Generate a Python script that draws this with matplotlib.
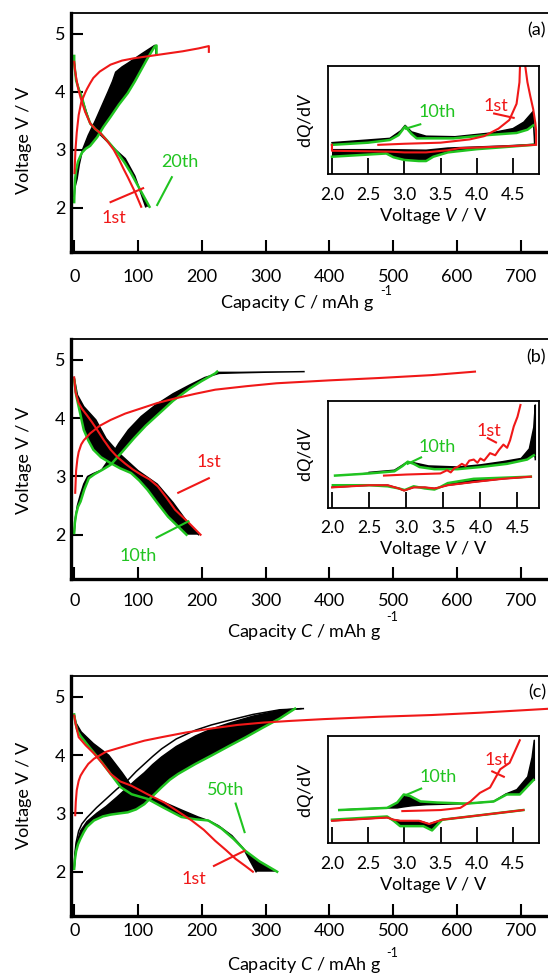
import numpy as np
import matplotlib
matplotlib.use('Agg')
import matplotlib.pyplot as plt

plt.rcParams['font.family'] = ['Lato', 'DejaVu Sans']
plt.rcParams['mathtext.fontset'] = 'custom'
plt.rcParams['mathtext.rm'] = 'Lato'
plt.rcParams['mathtext.it'] = 'Lato:italic'

RED = '#f01818'
GREEN = '#20c420'

# ---------------- panel (a), voltage profiles ----------------
a_red_ch_C = [0.5, 1, 2, 4, 7, 11, 17, 20, 25, 30, 40, 57, 75, 94, 132, 170, 195, 211, 211]
a_red_ch_V = [2.6, 2.75, 3.0, 3.3, 3.6, 3.82, 3.98, 4.05, 4.15, 4.24, 4.35, 4.47, 4.54, 4.58,
              4.64, 4.7, 4.75, 4.79, 4.69]
a_red_dis_C = [0, 1, 3, 6, 10, 17, 25, 33, 41, 52, 62, 70, 77, 84, 95, 105]
a_red_dis_V = [4.52, 4.4, 4.25, 4.07, 3.9, 3.66, 3.46, 3.36, 3.29, 3.15, 3.0, 2.84, 2.68, 2.53,
               2.28, 2.02]
a_blk_ch_C = [0, 1, 4.5, 8, 13, 22, 33, 43, 53, 60, 65, 75, 85, 105, 126, 128, 128]
a_blk_ch_V = [2.2, 2.35, 2.5, 2.75, 3.0, 3.25, 3.5, 3.75, 4.0, 4.18, 4.34, 4.43, 4.5, 4.65, 4.8,
              4.8, 4.66]
a_blk_dis_C = [0, 3, 12, 25, 42, 65, 80, 95, 112]
a_blk_dis_V = [4.55, 4.2, 3.9, 3.45, 3.25, 3.0, 2.85, 2.55, 2.02]
a_grn_ch_C = [0, 0.5, 1.5, 3, 6, 12, 18, 25, 36, 46, 57, 70, 84, 95, 105, 115, 126, 129, 129]
a_grn_ch_V = [2.1, 2.3, 2.5, 2.65, 2.8, 2.95, 3.02, 3.07, 3.22, 3.4, 3.57, 3.78, 3.98, 4.18, 4.38,
              4.58, 4.78, 4.8, 4.65]
a_grn_dis_C = [0, 0, 3, 7, 12, 18, 25, 33, 41, 55, 68, 79, 89, 104, 118]
a_grn_dis_V = [4.62, 4.5, 4.2, 4.05, 3.91, 3.66, 3.46, 3.36, 3.29, 3.12, 2.95, 2.78, 2.6, 2.3, 2.02]

# panel (a), dQ/dV inset
a_in_grn_up_V = [2.0, 2.5, 2.8, 2.92, 3.01, 3.1, 3.17, 3.68, 4.14, 4.55, 4.7, 4.78]
a_in_grn_up_y = [0.27, 0.29, 0.315, 0.36, 0.44, 0.37, 0.33, 0.33, 0.36, 0.38, 0.41, 0.45]
a_in_blk_up_V = [2.0, 2.8, 2.95, 3.01, 3.1, 3.3, 3.7, 4.2, 4.5, 4.65, 4.78, 4.8]
a_in_blk_up_y = [0.29, 0.33, 0.40, 0.45, 0.39, 0.35, 0.345, 0.38, 0.42, 0.48, 0.58, 0.27]
a_in_red_up_V = [2.64, 3.0, 3.5, 3.9, 4.1, 4.3, 4.45, 4.55, 4.59, 4.6]
a_in_red_up_y = [0.27, 0.28, 0.29, 0.32, 0.35, 0.42, 0.5, 0.65, 0.85, 1.05]
a_in_red_tail_V = [4.66, 4.7, 4.74, 4.78, 4.81, 4.82, 4.82]
a_in_red_tail_y = [1.05, 0.85, 0.72, 0.6, 0.47, 0.4, 0.27]
a_in_grn_lo_V = [2.0, 2.5, 2.75, 2.85, 3.0, 3.2, 3.3, 3.4, 3.6, 4.0, 4.4, 4.78]
a_in_grn_lo_y = [0.16, 0.18, 0.19, 0.155, 0.13, 0.12, 0.12, 0.16, 0.20, 0.23, 0.25, 0.27]
a_in_blk_lo_V = [2.0, 2.8, 3.3, 3.6, 4.0, 4.4, 4.8]
a_in_blk_lo_y = [0.225, 0.225, 0.22, 0.24, 0.25, 0.26, 0.275]
a_in_red_lo_V = [2.0, 2.0, 2.5, 2.8, 3.0, 3.3, 3.6, 3.77, 4.0, 4.55, 4.8]
a_in_red_lo_y = [0.27, 0.215, 0.21, 0.207, 0.2, 0.2, 0.22, 0.24, 0.245, 0.26, 0.27]

# ---------------- panel (b) ----------------
b_red_ch_C = [1.6, 3, 5, 7, 11, 15, 25, 40, 57, 80, 105, 130, 158, 190, 221, 270, 317, 400,
              477, 560, 628]
b_red_ch_V = [2.72, 3.1, 3.3, 3.42, 3.55, 3.62, 3.74, 3.87, 3.97, 4.08, 4.17, 4.26, 4.34, 4.42,
              4.49, 4.55, 4.6, 4.65, 4.69, 4.74, 4.8]
b_red_dis_C = [0, 2, 7, 13, 20, 28, 36, 46, 57, 68, 80, 92, 105, 118, 131, 145, 158, 180, 198]
b_red_dis_V = [4.7, 4.45, 4.26, 4.15, 4.05, 3.93, 3.8, 3.63, 3.46, 3.33, 3.22, 3.12, 3.03, 2.95,
               2.83, 2.63, 2.43, 2.2, 2.0]
b_blk_ch_C = [0, 2, 5, 10, 15, 21, 30, 43, 55, 70, 85, 105, 128, 155, 181, 205, 227, 260, 300, 360]
b_blk_ch_V = [2.03, 2.3, 2.5, 2.7, 2.87, 3.0, 3.05, 3.11, 3.3, 3.57, 3.8, 4.03, 4.23, 4.42, 4.57,
              4.7, 4.77, 4.78, 4.79, 4.8]
b_blk_dis_C = [0, 5, 15, 34, 50, 70, 100, 130, 155, 175, 195]
b_blk_dis_V = [4.7, 4.4, 4.2, 3.97, 3.65, 3.4, 3.1, 2.87, 2.55, 2.25, 2.0]
b_grn_ch_C = [0, 1, 3, 6, 10, 16, 23, 32, 45, 57, 75, 94, 112, 131, 155, 181, 200, 221, 224]
b_grn_ch_V = [2.03, 2.2, 2.35, 2.48, 2.57, 2.78, 2.97, 3.04, 3.12, 3.2, 3.42, 3.66, 3.87, 4.06,
              4.3, 4.51, 4.64, 4.77, 4.8]
b_grn_dis_C = [0, 3, 7, 15, 22, 30, 42, 57, 72, 89, 102, 115, 130, 147, 162, 176]
b_grn_dis_V = [4.66, 4.4, 4.2, 3.8, 3.62, 3.46, 3.33, 3.23, 3.14, 3.06, 2.93, 2.77, 2.55, 2.31,
               2.15, 2.0]

b_in_grn_up_V = [2.04, 2.5, 2.84, 2.95, 3.02, 3.1, 3.18, 3.38, 3.69, 4.0, 4.36, 4.63, 4.72]
b_in_grn_up_y = [0.30, 0.32, 0.34, 0.39, 0.43, 0.41, 0.38, 0.36, 0.36, 0.38, 0.41, 0.45, 0.49]
b_in_blk_up_V = [2.5, 2.84, 3.0, 3.1, 3.3, 3.7, 4.0, 4.3, 4.55, 4.66, 4.72, 4.74, 4.74]
b_in_blk_up_y = [0.33, 0.35, 0.42, 0.42, 0.39, 0.38, 0.40, 0.43, 0.46, 0.55, 0.75, 0.96, 0.45]
b_in_red_up_V = [2.70, 3.0, 3.46, 3.55, 3.6, 3.65, 3.69, 3.75, 3.8, 3.85, 3.91, 3.96,
                 4.0, 4.05, 4.13, 4.2, 4.25, 4.31, 4.36, 4.4, 4.45, 4.5, 4.54]
b_in_red_up_y = [0.30, 0.31, 0.32, 0.35, 0.33, 0.37, 0.38, 0.41, 0.39, 0.44, 0.45, 0.42,
                 0.46, 0.44, 0.51, 0.49, 0.54, 0.59, 0.56, 0.63, 0.76, 0.85, 0.96]
b_in_grn_lo_V = [2.01, 2.5, 2.75, 2.9, 2.98, 3.1, 3.25, 3.38, 3.45, 3.56, 3.91, 4.3, 4.68]
b_in_grn_lo_y = [0.21, 0.21, 0.20, 0.18, 0.165, 0.2, 0.18, 0.17, 0.19, 0.23, 0.27, 0.28, 0.29]
b_in_red_lo_V = [2.0, 2.5, 2.75, 2.9, 2.97, 3.1, 3.25, 3.38, 3.45, 3.56, 3.91, 4.3, 4.68]
b_in_red_lo_y = [0.19, 0.21, 0.21, 0.18, 0.16, 0.19, 0.19, 0.18, 0.19, 0.21, 0.24, 0.27, 0.29]

# ---------------- panel (c) ----------------
c_red_ch_C = [1.6, 2.5, 4, 7, 10, 15, 22, 31, 50, 84, 110, 137, 175, 216, 256, 296, 340, 391,
              477, 560, 636, 700, 747]
c_red_ch_V = [2.97, 3.2, 3.4, 3.56, 3.65, 3.74, 3.85, 3.94, 4.06, 4.17, 4.25, 4.31, 4.39, 4.46,
              4.52, 4.56, 4.59, 4.62, 4.66, 4.69, 4.73, 4.77, 4.80]
c_red_dis_C = [0, 2, 7, 18, 31, 45, 57, 72, 89, 115, 141, 162, 184, 203, 221, 238, 253, 268, 280]
c_red_dis_V = [4.68, 4.55, 4.31, 4.17, 4.03, 3.85, 3.68, 3.55, 3.48, 3.33, 3.19, 3.04, 2.88, 2.72,
               2.53, 2.37, 2.22, 2.1, 2.0]
c_blk1_ch_C = [0, 1, 3, 7, 12, 20, 35, 50, 67, 84, 97, 110, 123, 137, 160, 190, 215, 243, 280,
               322, 359]
c_blk1_ch_V = [2.05, 2.3, 2.5, 2.7, 2.82, 2.93, 3.1, 3.25, 3.42, 3.57, 3.72, 3.85, 3.98, 4.11,
               4.28, 4.43, 4.52, 4.6, 4.7, 4.78, 4.8]
c_blk_ch_C = [0, 3, 10, 20, 35, 50, 67, 84, 97, 110, 123, 137, 160, 190, 215, 243, 280, 322, 355]
c_blk_ch_V = [2.05, 2.45, 2.7, 2.86, 3.0, 3.12, 3.28, 3.45, 3.58, 3.7, 3.84, 3.97, 4.15, 4.33,
              4.45, 4.55, 4.67, 4.77, 4.8]
c_blk_dis_C = [0, 3, 11, 30, 54, 75, 91, 115, 141, 168, 194, 212, 226, 247, 265, 285]
c_blk_dis_V = [4.7, 4.55, 4.4, 4.2, 4.0, 3.7, 3.45, 3.3, 3.19, 3.06, 2.94, 2.87, 2.79, 2.62, 2.4,
               2.0]
c_grn_ch_C = [0, 1, 3, 6, 9.5, 15, 20, 31, 45, 57, 70, 84, 97, 110, 123, 137, 150, 163, 190, 216,
              243, 269, 295, 322, 346]
c_grn_ch_V = [2.05, 2.2, 2.35, 2.47, 2.56, 2.68, 2.77, 2.88, 2.95, 2.98, 3.0, 3.02, 3.07, 3.16,
              3.3, 3.45, 3.58, 3.68, 3.85, 4.0, 4.16, 4.31, 4.47, 4.63, 4.8]
c_grn_dis_C = [0, 2, 5, 10, 25, 41, 57, 73, 90, 115, 140, 168, 190, 210, 231, 250, 268, 290, 318]
c_grn_dis_V = [4.7, 4.55, 4.42, 4.33, 4.12, 3.91, 3.68, 3.45, 3.33, 3.25, 3.1, 2.94, 2.9, 2.88,
               2.74, 2.56, 2.36, 2.18, 2.0]

c_in_grn_up_V = [2.1, 2.76, 2.9, 2.99, 3.08, 3.22, 3.45, 3.86, 4.23, 4.41, 4.59, 4.78]
c_in_grn_up_y = [0.31, 0.33, 0.38, 0.455, 0.44, 0.39, 0.38, 0.37, 0.39, 0.455, 0.455, 0.59]
c_in_blk_up_V = [2.1, 2.76, 2.9, 2.99, 3.1, 3.3, 3.86, 4.23, 4.4, 4.55, 4.7, 4.76, 4.79, 4.79]
c_in_blk_up_y = [0.31, 0.33, 0.33, 0.34, 0.35, 0.36, 0.37, 0.39, 0.46, 0.5, 0.62, 0.8, 0.96, 0.59]
c_in_red_up_V = [2.97, 3.5, 3.77, 3.91, 4.04, 4.18, 4.32, 4.45, 4.52, 4.59]
c_in_red_up_y = [0.30, 0.31, 0.33, 0.39, 0.47, 0.52, 0.69, 0.75, 0.855, 0.96]
c_in_grn_lo_V = [2.0, 2.76, 2.85, 2.94, 3.26, 3.38, 3.52, 3.9, 4.64]
c_in_grn_lo_y = [0.22, 0.25, 0.21, 0.16, 0.16, 0.12, 0.22, 0.25, 0.31]
c_in_red_lo_V = [2.0, 2.76, 2.85, 2.94, 3.2, 3.34, 3.52, 3.9, 4.64]
c_in_red_lo_y = [0.21, 0.24, 0.22, 0.21, 0.21, 0.18, 0.22, 0.25, 0.31]

cap_ticks = [0, 100, 200, 300, 400, 500, 600, 700]
volt_ticks = [2, 3, 4, 5]
dq_ticks = [2.0, 2.5, 3.0, 3.5, 4.0, 4.5]

W, H = 548, 974
fig = plt.figure(figsize=(W / 100, H / 100), dpi=100)


def band(ax, c1, v1, c2, v2):
    c1, v1, c2, v2 = map(np.asarray, (c1, v1, c2, v2))
    ax.fill(np.r_[c1, c2[::-1]], np.r_[v1, v2[::-1]], color='k', lw=0)
    ax.plot(c1, v1, color='k', lw=1.1)


def main_panel(top, bottom, xpad):
    ax = fig.add_axes([71 / W, 1 - bottom / H, (W - 71) / W + 0.01, (bottom - top) / H])
    ax.set_xlim(-5, 751)
    ax.set_ylim(1.24, 5.36)
    ax.spines['right'].set_visible(False)
    ax.spines['left'].set_linewidth(2.4)
    ax.spines['bottom'].set_linewidth(2.4)
    ax.spines['top'].set_linewidth(1.3)
    ax.set_xticks(cap_ticks)
    ax.set_yticks(volt_ticks)
    ax.tick_params(direction='in', length=8.6, width=1.5, labelsize=13)
    ax.tick_params(axis='x', pad=xpad)
    ax.tick_params(axis='y', pad=4)
    return ax


def inset(top, bottom, xmax):
    ax = fig.add_axes([328 / W, 1 - bottom / H, 211 / W, (bottom - top) / H])
    ax.set_xlim(1.945, xmax)
    ax.set_ylim(0, 1)
    for s in ax.spines.values():
        s.set_linewidth(1.3)
    ax.set_xticks(dq_ticks)
    ax.set_xticklabels(['%.1f' % t for t in dq_ticks])
    ax.set_yticks([])
    ax.tick_params(axis='x', direction='in', length=11.5, width=1.3, labelsize=12.5, pad=9)
    ax.text(0.5, -0.39, 'Voltage $V$ / V', transform=ax.transAxes, ha='center', va='center',
            fontsize=13)
    ax.text(-0.105, 0.5, 'd$Q$/d$V$', transform=ax.transAxes, ha='center', va='center',
            rotation=90, fontsize=13)
    return ax


def labels(ycenter, xcenter, xlab_y, sup_xy, letter, letter_y):
    fig.text(24 / W, 1 - ycenter / H, 'Voltage V / V', rotation=90, ha='center', va='center',
             fontsize=13)
    fig.text(xcenter / W, 1 - xlab_y / H, 'Capacity $C$ / mAh g', ha='center', va='center',
             fontsize=13)
    fig.text(sup_xy[0] / W, 1 - sup_xy[1] / H, '-1', ha='center', va='center', fontsize=9)
    fig.text(546 / W, 1 - letter_y / H, letter, ha='right', va='center', fontsize=13)


# ----- (a) -----
ax = main_panel(13, 252, 12)
band(ax, a_blk_ch_C, a_blk_ch_V, a_grn_ch_C, a_grn_ch_V)
band(ax, a_blk_dis_C, a_blk_dis_V, a_grn_dis_C, a_grn_dis_V)
ax.plot(a_grn_ch_C, a_grn_ch_V, color=GREEN, lw=1.8)
ax.plot(a_grn_dis_C, a_grn_dis_V, color=GREEN, lw=1.8)
ax.plot(a_red_ch_C, a_red_ch_V, color=RED, lw=1.5)
ax.plot(a_red_dis_C, a_red_dis_V, color=RED, lw=1.5)
ax.text(165, 2.79, '20th', color=GREEN, ha='center', va='center', fontsize=13)
ax.plot([153, 130], [2.53, 2.05], color=GREEN, lw=1.5)
ax.text(62, 1.83, '1st', color=RED, ha='center', va='center', fontsize=13)
ax.plot([57, 108], [2.10, 2.34], color=RED, lw=1.5)
labels(140, 297, 303, (386, 291), '(a)', 30)

ai = inset(66, 174, 4.86)
band(ai, a_in_blk_up_V, a_in_blk_up_y, a_in_grn_up_V, a_in_grn_up_y)
band(ai, a_in_blk_lo_V, a_in_blk_lo_y, a_in_grn_lo_V, a_in_grn_lo_y)
ai.plot(a_in_grn_up_V, a_in_grn_up_y, color=GREEN, lw=1.8)
ai.plot(a_in_grn_lo_V, a_in_grn_lo_y, color=GREEN, lw=1.8)
ai.plot(a_in_red_up_V, a_in_red_up_y, color=RED, lw=1.5)
ai.plot(a_in_red_tail_V, a_in_red_tail_y, color=RED, lw=1.5)
ai.plot(a_in_red_lo_V, a_in_red_lo_y, color=RED, lw=1.5)
ai.text(3.45, 0.57, '10th', color=GREEN, ha='center', va='center', fontsize=13)
ai.plot([3.02, 3.22], [0.42, 0.46], color=GREEN, lw=1.5)
ai.text(4.26, 0.63, '1st', color=RED, ha='center', va='center', fontsize=13)
ai.plot([4.24, 4.51], [0.56, 0.52], color=RED, lw=1.5)

# ----- (b) -----
bx = main_panel(339, 579, 10)
band(bx, b_blk_ch_C, b_blk_ch_V, b_grn_ch_C, b_grn_ch_V)
band(bx, b_blk_dis_C, b_blk_dis_V, b_grn_dis_C, b_grn_dis_V)
bx.plot(b_grn_ch_C, b_grn_ch_V, color=GREEN, lw=1.8)
bx.plot(b_grn_dis_C, b_grn_dis_V, color=GREEN, lw=1.8)
bx.plot(b_red_ch_C, b_red_ch_V, color=RED, lw=1.5)
bx.plot(b_red_dis_C, b_red_dis_V, color=RED, lw=1.5)
bx.text(211, 3.25, '1st', color=RED, ha='center', va='center', fontsize=13)
bx.plot([163, 211], [2.72, 2.97], color=RED, lw=1.5)
bx.text(100, 1.63, '10th', color=GREEN, ha='center', va='center', fontsize=13)
bx.plot([129, 179], [1.95, 2.23], color=GREEN, lw=1.5)
labels(460, 304, 632, (392, 617), '(b)', 357)

bi = inset(400.7, 507.7, 4.79)
band(bi, b_in_blk_up_V, b_in_blk_up_y, b_in_grn_up_V, b_in_grn_up_y)
band(bi, b_in_red_lo_V, b_in_red_lo_y, b_in_grn_lo_V, b_in_grn_lo_y)
bi.plot(b_in_grn_up_V, b_in_grn_up_y, color=GREEN, lw=1.8)
bi.plot(b_in_grn_lo_V, b_in_grn_lo_y, color=GREEN, lw=1.8)
bi.plot(b_in_red_up_V, b_in_red_up_y, color=RED, lw=1.5)
bi.plot(b_in_red_lo_V, b_in_red_lo_y, color=RED, lw=1.5)
bi.text(3.42, 0.57, '10th', color=GREEN, ha='center', va='center', fontsize=13)
bi.plot([3.02, 3.2], [0.41, 0.47], color=GREEN, lw=1.5)
bi.text(4.12, 0.72, '1st', color=RED, ha='center', va='center', fontsize=13)
bi.plot([4.1, 4.21], [0.65, 0.61], color=RED, lw=1.5)

# ----- (c) -----
cx = main_panel(676, 916, 5)
cx.plot(c_blk1_ch_C, c_blk1_ch_V, color='k', lw=1.1)
band(cx, c_blk_ch_C, c_blk_ch_V, c_grn_ch_C, c_grn_ch_V)
band(cx, c_blk_dis_C, c_blk_dis_V, c_grn_dis_C, c_grn_dis_V)
cx.plot(c_grn_ch_C, c_grn_ch_V, color=GREEN, lw=1.8)
cx.plot(c_grn_dis_C, c_grn_dis_V, color=GREEN, lw=1.8)
cx.plot(c_red_ch_C, c_red_ch_V, color=RED, lw=1.5)
cx.plot(c_red_dis_C, c_red_dis_V, color=RED, lw=1.5)
cx.text(237, 3.40, '50th', color=GREEN, ha='center', va='center', fontsize=13)
cx.plot([253, 267], [3.17, 2.68], color=GREEN, lw=1.5)
cx.text(187, 1.87, '1st', color=RED, ha='center', va='center', fontsize=13)
cx.plot([219, 267], [2.10, 2.36], color=RED, lw=1.5)
labels(795, 304, 965, (392, 953), '(c)', 692)

ci = inset(736, 843.3, 4.855)
band(ci, c_in_blk_up_V, c_in_blk_up_y, c_in_grn_up_V, c_in_grn_up_y)
band(ci, c_in_red_lo_V, c_in_red_lo_y, c_in_grn_lo_V, c_in_grn_lo_y)
ci.plot(c_in_grn_up_V, c_in_grn_up_y, color=GREEN, lw=1.8)
ci.plot(c_in_grn_lo_V, c_in_grn_lo_y, color=GREEN, lw=1.8)
ci.plot(c_in_red_up_V, c_in_red_up_y, color=RED, lw=1.5)
ci.plot(c_in_red_lo_V, c_in_red_lo_y, color=RED, lw=1.5)
ci.text(3.46, 0.62, '10th', color=GREEN, ha='center', va='center', fontsize=13)
ci.plot([3.02, 3.23], [0.45, 0.51], color=GREEN, lw=1.5)
ci.text(4.28, 0.78, '1st', color=RED, ha='center', va='center', fontsize=13)
ci.plot([4.21, 4.37], [0.67, 0.62], color=RED, lw=1.5)

fig.savefig('out.png', dpi=100)
